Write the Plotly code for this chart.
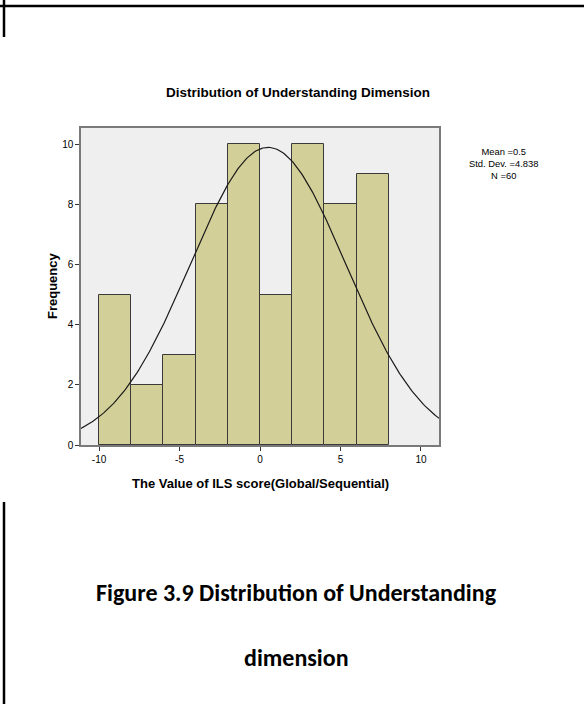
import numpy as np
import plotly.graph_objects as go

# ---- data ----
bin_left_edges = [-10, -8, -6, -4, -2, 0, 2, 4, 6]
bin_width = 2
frequencies = [5, 2, 3, 8, 10, 5, 10, 8, 9]
mean_val = 0.5
std_val = 4.838
n_val = 60
x_ticks = [-10, -5, 0, 5, 10]
y_ticks = [0, 2, 4, 6, 8, 10]

W, H = 584, 704
L, R, T, B = 81, 439, 128, 445  # plot area in pixels


def px(x):
    return (x - L) / (R - L)


def py(y):
    return (B - y) / (B - T)


centers = [e + bin_width / 2 for e in bin_left_edges]

xs = np.linspace(-11.12, 11.12, 300)
ys = n_val * bin_width / (std_val * np.sqrt(2 * np.pi)) * np.exp(-0.5 * ((xs - mean_val) / std_val) ** 2)

fig = go.Figure()
fig.add_trace(go.Bar(
    x=centers, y=frequencies, width=bin_width,
    marker=dict(color="#D3CF98", line=dict(color="#3a3a3a", width=1)),
    hoverinfo="x+y", showlegend=False,
))
fig.add_trace(go.Scatter(
    x=xs, y=ys, mode="lines", line=dict(color="#1a1a1a", width=1.2),
    showlegend=False, hoverinfo="skip",
))

font = "Liberation Sans, Arial, sans-serif"
axis_common = dict(showgrid=False, zeroline=False, showline=True, linecolor="#7a7a7a", linewidth=1.5,
                   mirror=True, ticks="outside", ticklen=4, tickcolor="#333", tickwidth=1,
                   tickfont=dict(size=10, family=font))
fig.update_layout(
    width=W, height=H,
    margin=dict(l=L, r=W - R, t=T, b=H - B, pad=0),
    paper_bgcolor="white", plot_bgcolor="#EFEFEF",
    bargap=0,
    font=dict(family=font, color="black", size=9),
    xaxis=dict(range=[-11.12, 11.12], tickvals=x_ticks, ticktext=[str(v) for v in x_ticks], **axis_common),
    yaxis=dict(range=[0, 10.54], tickvals=y_ticks, ticktext=[str(v) for v in y_ticks], **axis_common),
)

cap_font = "Carlito, Open Sans, Liberation Sans, sans-serif"
annotations = [
    dict(x=px(298), y=py(92), text="<b>Distribution of Understanding Dimension</b>",
         font=dict(size=13.5, family=font)),
    dict(x=px(260), y=py(483), text="<b>The Value of ILS score(Global/Sequential)</b>",
         font=dict(size=13, family=font)),
    dict(x=px(52), y=py(286), text="<b>Frequency</b>", textangle=-90,
         font=dict(size=13, family=font)),
    dict(x=px(503), y=py(163), text="Mean =0.5<br>Std. Dev. =4.838<br>N =60",
         font=dict(size=9.4, family=font), align="center"),
    dict(x=px(296), y=py(592), text="<b>Figure 3.9 Distribution of Understanding</b>",
         font=dict(size=24, family=cap_font)),
    dict(x=px(296), y=py(657), text="<b>dimension</b>",
         font=dict(size=24, family=cap_font)),
]
for a in annotations:
    a.update(xref="paper", yref="paper", showarrow=False, xanchor="center", yanchor="middle")
fig.update_layout(annotations=annotations)

shapes = [
    dict(type="line", x0=px(0), x1=px(584), y0=py(6), y1=py(6)),
    dict(type="line", x0=px(4), x1=px(4), y0=py(0), y1=py(37)),
    dict(type="line", x0=px(4), x1=px(4), y0=py(502), y1=py(704)),
]
for s in shapes:
    s.update(xref="paper", yref="paper", line=dict(color="black", width=2.5))
fig.update_layout(shapes=shapes)

fig.write_html("out.html", config={"displayModeBar": False},
               post_script="document.body.style.margin='0';document.body.style.overflow='hidden';")
